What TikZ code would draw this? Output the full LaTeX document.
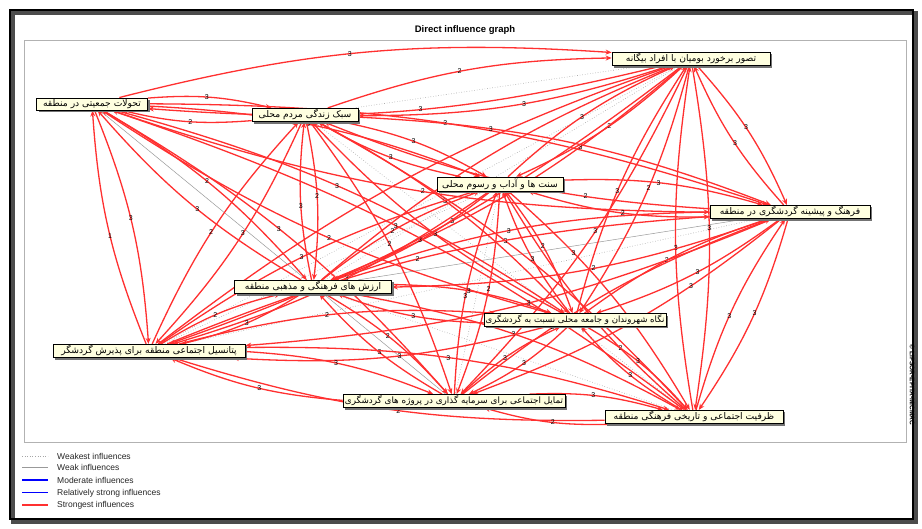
\documentclass[tikz,border=0pt]{standalone}
\usepackage{fontspec}
\setmainfont{Liberation Sans}
\newfontfamily\fafont[Script=Arabic]{DejaVu Sans}
\TeXXeTstate=1
\usetikzlibrary{arrows.meta,shadows}
\pgfdeclarelayer{bg}\pgfdeclarelayer{edges}
\pgfsetlayers{bg,edges,main}
\definecolor{boxfill}{HTML}{FFFFE0}
\definecolor{infred}{HTML}{FF3030}
\begin{document}
\begin{tikzpicture}[x=1pt,y=-1pt,
  var/.style={draw=black, line width=0.7pt, fill=boxfill, inner xsep=1.5pt, inner ysep=1.5pt,
    font=\fontsize{9.2}{10}\fafont,
    drop shadow={shadow xshift=2pt,shadow yshift=-2pt,fill=black!55,opacity=1}},
  infl/.style={draw=infred, line width=1.3pt, -{Stealth[length=6pt,width=5pt]}},
  weakest/.style={draw=gray!70, line width=0.6pt, dotted},
  weak/.style={draw=gray!80, line width=0.5pt},
  lbl/.style={font=\fontsize{7}{8}\selectfont, text=black, inner sep=0.5pt},
  legtxt/.style={font=\fontsize{8.5}{9}\selectfont, text=black!85, anchor=west, inner sep=0pt}
]
\useasboundingbox (0,0) rectangle (922,529);
\begin{pgfonlayer}{bg}
  \fill[white] (0,0) rectangle (922,529);
  \draw[black!70, line width=4pt] (13,13) rectangle (916,522);
  \draw[black, line width=2pt] (10,10) rectangle (913,519);
  \draw[gray!60, line width=0.6pt] (24,40) rectangle (906,442);
\end{pgfonlayer}

\node[font=\bfseries\fontsize{9.5}{10}\selectfont] (title) at (465,30) {Direct influence graph};

\node[var, minimum width=158pt] (n1) at (691,59) {\beginR تصور برخورد بومیان با افراد بیگانه\endR};
\node[var, minimum width=111pt] (n2) at (92,104) {\beginR تحولات جمعیتی در منطقه\endR};
\node[var, minimum width=106pt] (n3) at (305,115) {\beginR سبک زندگی مردم محلی\endR};
\node[var, minimum width=126pt] (n4) at (500,184) {\beginR سنت ها و آداب و رسوم محلی\endR};
\node[var, minimum width=160pt] (n5) at (790,212) {\beginR فرهنگ و پیشینه گردشگری در منطقه\endR};
\node[var, minimum width=157pt] (n6) at (313,287) {\beginR ارزش های فرهنگی و مذهبی منطقه\endR};
\node[var, minimum width=180pt, font=\fontsize{8.6}{9}\fafont] (n7) at (575,320) {\beginR نگاه شهروندان و جامعه محلی نسبت به گردشگری\endR};
\node[var, minimum width=192pt] (n8) at (149,351) {\beginR پتانسیل اجتماعی منطقه برای پذیرش گردشگر\endR};
\node[var, minimum width=222pt, font=\fontsize{8.8}{9}\fafont] (n9) at (454,401) {\beginR تمایل اجتماعی برای سرمایه گذاری در پروژه های گردشگری\endR};
\node[var, minimum width=178pt] (n10) at (694,417) {\beginR ظرفیت اجتماعی و تاریخی فرهنگی منطقه\endR};

\begin{pgfonlayer}{edges}
  \foreach \a/\b in {1/6,1/8,1/3,4/9,5/8,6/10,3/10,4/8}
    \draw[weakest] (n\a) -- (n\b);
  \foreach \a/\b in {5/6,2/9}
    \draw[weak] (n\a) -- (n\b);
  \foreach \a/\b/\l/\p in {
    1/2/3/0.47,2/1/3/0.47,1/3/3/0.47,3/1/2/0.47,1/4/2/0.47,4/1/3/0.47,1/5/3/0.47,5/1/3/0.47,1/6/3/0.3,6/1//0.47,
    1/7/2/0.47,7/1/3/0.47,1/8/3/0.47,8/1//0.47,1/9/3/0.47,1/10/3/0.47,10/1/3/0.47,
    2/3/3/0.47,3/2/2/0.47,2/4/3/0.47,2/5/3/0.47,5/2/2/0.47,2/6/2/0.47,6/2/3/0.47,2/7/3/0.47,7/2/2/0.47,
    2/8/3/0.47,8/2/1/0.47,2/9/3/0.47,2/10/3/0.47,
    3/4/3/0.47,4/3/3/0.47,3/5/3/0.3,5/3/2/0.3,3/6/2/0.47,6/3/3/0.47,3/7/3/0.47,7/3/3/0.47,3/8/3/0.47,
    8/3/2/0.47,3/9/2/0.47,3/10/3/0.47,
    4/5/3/0.47,5/4/2/0.47,4/6/3/0.47,6/4/2/0.47,4/7/2/0.47,7/4/3/0.47,4/8/3/0.47,8/4/3/0.47,4/9/2/0.47,
    9/4/3/0.47,4/10/3/0.3,10/4/2/0.3,
    5/6/2/0.47,6/5/3/0.47,5/7/3/0.47,7/5/2/0.47,5/8/3/0.47,8/5/2/0.47,5/9/3/0.3,9/5/2/0.3,5/10/3/0.47,10/5/3/0.47,
    6/7/3/0.47,7/6/3/0.47,6/8/3/0.47,8/6/2/0.47,6/9/2/0.47,9/6/3/0.47,6/10/3/0.47,
    7/8/3/0.47,8/7/2/0.47,7/9/3/0.47,9/7/3/0.47,7/10/3/0.47,10/7/3/0.47,
    8/9/3/0.47,9/8/3/0.47,8/10/3/0.47,10/8/2/0.47,9/10/3/0.47,10/9/2/0.47}
    \draw[infl] (n\a) to[bend left=9] node[lbl, pos=\p] {\l} (n\b);
\end{pgfonlayer}

% legend
\coordinate (l1a) at (22,456); \coordinate (l1b) at (48,456);
\coordinate (l2a) at (22,467); \coordinate (l2b) at (48,467);
\coordinate (l3a) at (22,480); \coordinate (l3b) at (48,480);
\coordinate (l4a) at (22,493); \coordinate (l4b) at (48,493);
\coordinate (l5a) at (22,505); \coordinate (l5b) at (48,505);
\draw[weakest] (l1a) -- (l1b);
\draw[weak] (l2a) -- (l2b);
\draw[draw=blue, line width=1.4pt] (l3a) -- (l3b);
\draw[draw=blue, line width=1pt] (l4a) -- (l4b);
\draw[draw=infred, line width=1.6pt] (l5a) -- (l5b);
\node[legtxt] (t1) at (57,456) {Weakest influences};
\node[legtxt] (t2) at (57,467) {Weak influences};
\node[legtxt] (t3) at (57,480) {Moderate influences};
\node[legtxt] (t4) at (57,493) {Relatively strong influences};
\node[legtxt] (t5) at (57,505) {Strongest influences};

\node[rotate=-90, font=\bfseries\fontsize{6.5}{7}\selectfont] (copy) at (912,385) {\textcopyright{} LIPSOR-EPITA-MICMAC};
\end{tikzpicture}
\end{document}
